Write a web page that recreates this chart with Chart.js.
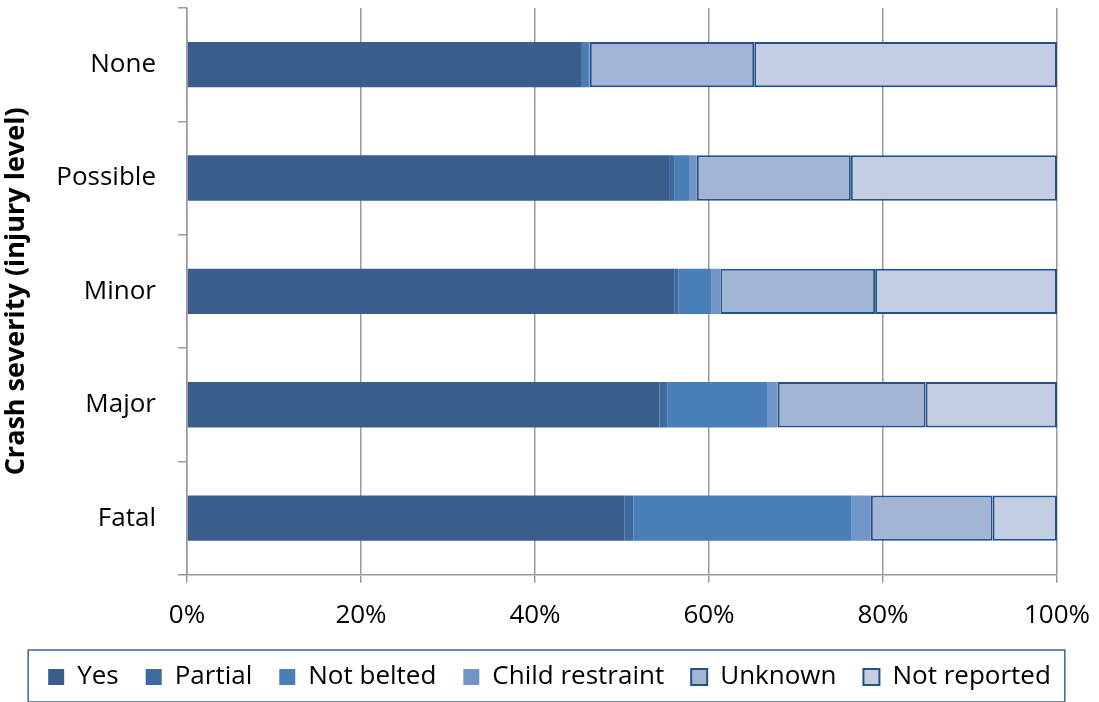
<!DOCTYPE html>
<html>
<head>
<meta charset="utf-8">
<script src="https://cdn.jsdelivr.net/npm/chart.js@4"></script>
<style>
  html, body { margin: 0; padding: 0; background: #fff; }
  #wrap { width: 1099px; height: 702px; }
</style>
</head>
<body>
<div id="wrap"><canvas id="crashChart" width="1099" height="702"></canvas></div>
<script>
const severities = ['None', 'Possible', 'Minor', 'Major', 'Fatal'];
const yesShare = [45.3, 55.5, 56.0, 54.3, 50.3];
const partialShare = [0.2, 0.5, 0.5, 0.95, 1.0];
const notBeltedShare = [0.7, 1.7, 3.8, 11.5, 25.1];
const childShare = [0.1, 0.9, 1.0, 1.15, 2.2];
const unknownShare = [18.9, 17.7, 17.8, 17.0, 14.0];
const notReportedShare = [34.8, 23.7, 20.9, 15.1, 7.4];
const xTicks = [0, 20, 40, 60, 80, 100];

const FONT = '"Open Sans", sans-serif';
const EDGE = '#24508a';
const GRID = '#9a9a9a';

// frame round the legend, as in the original
const legendFrame = {
  id: 'legendFrame',
  afterDraw(chart) {
    const boxes = chart.legend?.legendHitBoxes ?? [];
    if (!boxes.length) return;
    const left = Math.min(...boxes.map((b) => b.left)) - 20;
    const right = Math.max(...boxes.map((b) => b.left + b.width)) + 14;
    const top = Math.min(...boxes.map((b) => b.top)) - 14;
    const bottom = Math.max(...boxes.map((b) => b.top + b.height)) + 12;
    const { ctx } = chart;
    ctx.save();
    ctx.strokeStyle = '#3d6496';
    ctx.lineWidth = 1.5;
    ctx.strokeRect(left, top, right - left, bottom - top);
    ctx.restore();
  }
};

function segment(label, data, color, edge) {
  return {
    label,
    data,
    backgroundColor: color,
    borderColor: edge ?? color,
    borderWidth: edge ? 2 : 0,
    borderSkipped: false,
    barPercentage: 0.8,
    categoryPercentage: 0.5
  };
}

new Chart(document.getElementById('crashChart'), {
  type: 'bar',
  data: {
    labels: severities,
    datasets: [
      segment('Yes', yesShare, '#3a5e8c'),
      segment('Partial', partialShare, '#3e6aa2'),
      segment('Not belted', notBeltedShare, '#4a7eb6'),
      segment('Child restraint', childShare, '#7294c6'),
      segment('Unknown', unknownShare, '#a3b5d5', EDGE),
      segment('Not reported', notReportedShare, '#c3cee2', EDGE)
    ]
  },
  options: {
    responsive: false,
    animation: false,
    indexAxis: 'y',
    layout: { padding: { top: 8, right: 0, bottom: 2, left: 0 } },
    plugins: {
      tooltip: { enabled: false },
      legend: {
        position: 'bottom',
        labels: {
          color: '#000',
          font: { family: FONT, size: 26 },
          boxWidth: 16,
          boxHeight: 16,
          padding: 27,
          generateLabels(chart) {
            return chart.data.datasets.map((ds, i) => ({
              text: ds.label,
              fillStyle: ds.backgroundColor,
              strokeStyle: ds.borderColor,
              lineWidth: ds.borderWidth ? 2 : 0,
              hidden: false,
              datasetIndex: i
            }));
          }
        }
      }
    },
    scales: {
      x: {
        stacked: true,
        min: 0,
        max: 100,
        afterBuildTicks(scale) {
          scale.ticks = xTicks.map((value) => ({ value }));
        },
        afterFit(scale) {
          scale.paddingLeft = 0;
          scale.paddingRight = 42;
          scale.height -= 11;
        },
        ticks: {
          color: '#000',
          font: { family: FONT, size: 26 },
          padding: 17,
          maxRotation: 0,
          callback: (v) => v + '%'
        },
        grid: { color: GRID, lineWidth: 1.5, tickLength: 8 },
        border: { color: GRID, width: 1.5 }
      },
      y: {
        stacked: true,
        afterFit(scale) {
          scale.width = 187;
          scale.paddingTop = 0;
          scale.paddingBottom = 0;
        },
        ticks: {
          color: '#000',
          font: { family: FONT, size: 26 },
          padding: 22
        },
        grid: { drawOnChartArea: false, color: GRID, lineWidth: 1.5, tickLength: 9 },
        border: { color: GRID, width: 1.5 },
        title: {
          display: true,
          text: 'Crash severity (injury level)',
          color: '#000',
          font: { family: FONT, size: 27, weight: 'bold' },
          padding: { top: 0, bottom: 0 }
        }
      }
    }
  },
  plugins: [legendFrame]
});
</script>
</body>
</html>
